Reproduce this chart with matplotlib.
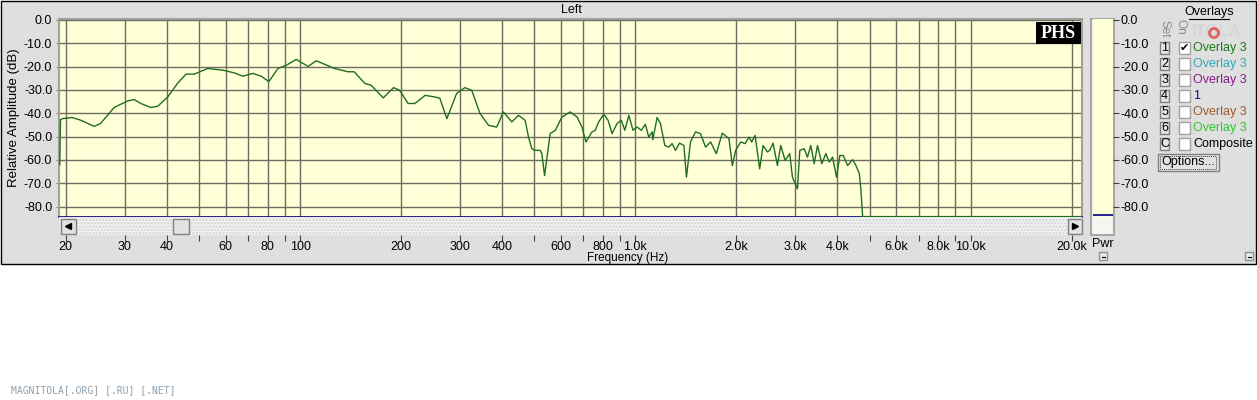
import matplotlib.pyplot as plt
from matplotlib.patches import Rectangle, Circle
from matplotlib.ticker import NullLocator

# canvas size in pixels
W, H = 1257, 400

# measured response (Hz, dB)
freq_hz = [19.2, 19.3, 19.55, 20.9, 22.2, 24.3, 25.4, 27.9, 30.6, 32.0, 33.5, 35.9, 37.6,
           40.3, 43.2, 45.7, 48.4, 50.3, 53.0, 58.8, 63.7, 67.5, 72.3, 76.6, 80.7, 85.9,
           91.0, 97.4, 105.6, 111.8, 126.8, 139, 145, 156, 163, 177, 190, 198, 210, 220,
           236, 252, 261, 274, 293, 310, 325, 344, 365, 386, 404, 428, 448, 469, 480, 491,
           502, 520, 526, 536, 545, 557, 577, 604, 639, 670, 693, 712, 742, 759, 777, 805,
           829, 852, 882, 908, 930, 956, 984, 1012, 1042, 1071, 1096, 1122, 1127, 1161,
           1188, 1224, 1258, 1287, 1317, 1354, 1395, 1420, 1460, 1511, 1564, 1619, 1676,
           1743, 1816, 1902, 1946, 1991, 2061, 2123, 2183, 2222, 2275, 2348, 2403, 2475,
           2515, 2574, 2652, 2713, 2796, 2886, 2940, 3043, 3092, 3187, 3260, 3335, 3414,
           3493, 3597, 3698, 3785, 3873, 3981, 4072, 4169, 4294, 4445, 4547, 4655, 4706,
           4761, 22000]
level_db = [-62.0, -42.8, -42.3, -41.8, -43.0, -45.6, -44.4, -37.5, -34.7, -34.1, -35.8, -37.5, -37.0,
            -33.0, -27.0, -23.2, -23.2, -22.2, -20.8, -21.5, -22.7, -24.1, -22.9, -24.1, -26.4, -20.8,
            -19.4, -16.9, -19.9, -17.5, -20.8, -22.2, -22.2, -27.2, -28.0, -33.4, -29.0, -30.1, -35.8, -35.8,
            -32.3, -33.0, -33.5, -42.3, -31.5, -29.0, -30.1, -40.1, -45.2, -45.9, -39.4, -43.7, -40.9, -43.0, -50.2, -55.2,
            -55.9, -55.9, -57.3, -66.7, -58.8, -48.7, -47.3, -41.6, -39.4, -41.6, -45.9, -52.3, -48.0, -47.3, -43.7, -40.4,
            -43.0, -48.7, -44.4, -43.0, -47.3, -40.9, -47.3, -45.9, -47.3, -44.7, -50.2, -48.0, -51.3, -41.8,
            -44.4, -53.8, -54.5, -53.0, -55.9, -52.8, -53.8, -67.4, -52.3, -48.0, -48.7, -54.5, -52.3,
            -57.3, -48.5, -50.9, -62.4, -55.9, -52.3, -53.0, -50.2, -52.3, -49.5, -63.8, -53.8, -56.6,
            -55.9, -52.8, -62.4, -53.8, -60.2, -57.3, -67.4, -72.4, -55.9, -55.2, -58.8, -53.8, -61.6,
            -53.8, -61.6, -57.3, -60.9, -58.8, -67.4, -58.1, -58.1, -62.4, -59.9, -62.4, -65.9, -73.1,
            -84.3, -84.3]

x_ticks = [20, 30, 40, 50, 60, 70, 80, 90, 100, 200, 300, 400, 500, 600, 700, 800, 900,
           1000, 2000, 3000, 4000, 5000, 6000, 7000, 8000, 9000, 10000, 20000]
x_labels = ['20', '30', '40', '', '60', '', '80', '', '100', '200', '300', '400', '', '600', '',
            '800', '', '1.0k', '2.0k', '3.0k', '4.0k', '', '6.0k', '', '8.0k', '', '10.0k', '20.0k']
y_ticks = [0, -10, -20, -30, -40, -50, -60, -70, -80]

overlay_keys = ['1', '2', '3', '4', '5', '6', 'C']
overlay_names = ['Overlay 3', 'Overlay 3', 'Overlay 3', '1', 'Overlay 3', 'Overlay 3', 'Composite']
overlay_colors = ['#1a7a1a', '#30a8b8', '#8a1a8a', '#101080', '#a05a30', '#30c830', '#000000']

PANEL = '#dfdfdf'
PLOT_BG = '#ffffd8'
GRID = '#6e6e60'
FONT = 'Liberation Sans'

plt.rcParams['font.family'] = FONT
plt.rcParams['font.size'] = 9

fig = plt.figure(figsize=(W / 100, H / 100), dpi=100)
fig.patch.set_facecolor('white')


def px_axes(x0, y0, x1, y1, **kw):
    return fig.add_axes([x0 / W, 1 - y1 / H, (x1 - x0) / W, (y1 - y0) / H], **kw)


# background layer in pixel coordinates
bg = fig.add_axes([0, 0, 1, 1])
bg.set_xlim(0, W)
bg.set_ylim(H, 0)
bg.axis('off')
bg.add_patch(Rectangle((0.5, 0.5), W - 1.5, 263, facecolor=PANEL, edgecolor='black', lw=1))
# Pwr meter frame
bg.add_patch(Rectangle((1090.5, 18.5), 23.5, 216.5, facecolor='#f6f6f0', edgecolor='#a8a8a8', lw=1.5))
# faint logo behind the overlay header
bg.text(1192, 31, 'ITOLA', ha='left', va='center', color='#d4d4dc', fontsize=12, fontweight='bold')

# main plot
XLIM = (19.14, 21430)
YLIM = (-84.6, 0.3)
ax = px_axes(59.3, 19.3, 1081.7, 217.3)
ax.set_facecolor(PLOT_BG)
ax.set_xscale('log')
ax.set_xlim(*XLIM)
ax.set_ylim(*YLIM)
ax.set_xticks(x_ticks)
ax.xaxis.set_minor_locator(NullLocator())
ax.set_yticks(y_ticks)
ax.set_yticklabels([f'{v:.1f}' for v in y_ticks])
ax.tick_params(axis='x', length=0, labelbottom=False)
ax.tick_params(axis='y', length=2, pad=3, color='#808080', labelsize=9)
ax.grid(True, color=GRID, lw=1)
ax.set_axisbelow(True)
for side in ['top', 'left', 'right']:
    ax.spines[side].set_color('#a0a0a0')
    ax.spines[side].set_linewidth(1.5)
ax.spines['bottom'].set_color('#000080')
ax.spines['bottom'].set_linewidth(1.2)
ax.plot(freq_hz, level_db, color='#1e6e1e', lw=1, zorder=3)

# scroll bar with the frequency labels under it
sb = px_axes(59.3, 217.3, 1081.7, 234.5)
sb.set_facecolor('#f0f0f0')
sb.add_patch(Rectangle((0, 0), 1, 1, transform=sb.transAxes, facecolor='none',
                       edgecolor='#d2d2d2', hatch='.....', lw=0))
sb.set_xscale('log')
sb.set_xlim(*XLIM)
sb.set_xticks(x_ticks)
sb.set_xticklabels(x_labels)
sb.xaxis.set_minor_locator(NullLocator())
sb.set_yticks([])
sb.tick_params(axis='x', length=4, pad=0.5, color='#404040', labelsize=9)
for s in sb.spines.values():
    s.set_visible(False)

# Pwr meter
pw = px_axes(1093, 19.3, 1112.5, 217.3)
pw.set_facecolor(PLOT_BG)
pw.set_ylim(*YLIM)
pw.set_xticks([])
pw.set_yticks(y_ticks)
pw.set_yticklabels([f'{v:.1f}' for v in y_ticks])
pw.yaxis.tick_right()
pw.tick_params(axis='y', length=4, pad=2, color='#404040', labelsize=9)
for s in pw.spines.values():
    s.set_visible(False)
pw.axhline(-83.8, color='#000080', lw=1.2)

# foreground layer for widgets and labels
fg = fig.add_axes([0, 0, 1, 1], facecolor='none')
fg.set_xlim(0, W)
fg.set_ylim(H, 0)
fg.axis('off')

fg.text(571, 10, 'Left', ha='center', va='center')
fg.text(14, 118, 'Relative Amplitude (dB)', ha='center', va='center', rotation=90, fontsize=9.5)
fg.text(628, 257.5, 'Frequency (Hz)', ha='center', va='center', fontsize=8.5)
fg.text(1103, 244, 'Pwr', ha='center', va='center')

# scroll buttons
for x0, w in [(60.5, 15), (173, 16), (1067.5, 14)]:
    fg.add_patch(Rectangle((x0, 218.5), w, 15, facecolor='#e2e2e2', edgecolor='#808080', lw=1))
fg.plot([68], [226], marker='<', color='black', ms=4)
fg.plot([1074.5], [226], marker='>', color='black', ms=4)

# PHS badge
fg.add_patch(Rectangle((1036, 22), 45, 22, facecolor='black', edgecolor='none'))
fg.text(1058.5, 33.5, 'PHS', color='white', ha='center', va='center',
        family='Liberation Serif', fontweight='bold', fontsize=13)

# overlays panel
fg.text(1209, 12, 'Overlays', ha='center', va='center')
fg.plot([1189, 1229], [18.5, 18.5], color='black', lw=0.8)
fg.text(1165, 29, 'Set', rotation=-90, ha='center', va='center', color='#8a8a8a', fontsize=8.5)
fg.text(1181, 27, 'On', rotation=-90, ha='center', va='center', color='#8a8a8a', fontsize=8.5)
fg.add_patch(Circle((1214, 33), 4.5, facecolor='none', edgecolor='#e06060', lw=2))

for i, (key, name, col) in enumerate(zip(overlay_keys, overlay_names, overlay_colors)):
    yc = 48 + 16 * i
    fg.add_patch(Rectangle((1160, yc - 6), 9, 12, facecolor='#e4e4e4', edgecolor='#808080', lw=1))
    fg.text(1164.5, yc, key, ha='center', va='center')
    fg.add_patch(Rectangle((1179, yc - 6), 11, 12, facecolor='white', edgecolor='#a0a0a0', lw=1))
    if i == 0:
        fg.text(1184.5, yc, '\u2714', ha='center', va='center', family='DejaVu Sans', fontsize=8)
    fg.text(1193, yc, name, ha='left', va='center', color=col)

fg.add_patch(Rectangle((1157.5, 153.5), 61, 17, facecolor='#e2e2e2', edgecolor='#808080', lw=1))
fg.add_patch(Rectangle((1160, 155.5), 56, 13, facecolor='none', edgecolor='#404040', lw=0.7, ls=(0, (1, 1))))
fg.text(1188, 162, 'Options...', ha='center', va='center')

# tiny corner buttons
for x0 in [1099, 1245]:
    fg.add_patch(Rectangle((x0, 252), 8, 8, facecolor='#e8e8e8', edgecolor='#909090', lw=1))
    fg.plot([x0 + 2.5, x0 + 5.5], [257, 257], color='black', lw=0.8)

fg.text(11, 390, 'MAGNITOLA[.ORG] [.RU] [.NET]', ha='left', va='center',
        family='DejaVu Sans Mono', fontsize=7, color='#8fa0b0')

fig.savefig('out.png', dpi=100, facecolor=fig.get_facecolor())
